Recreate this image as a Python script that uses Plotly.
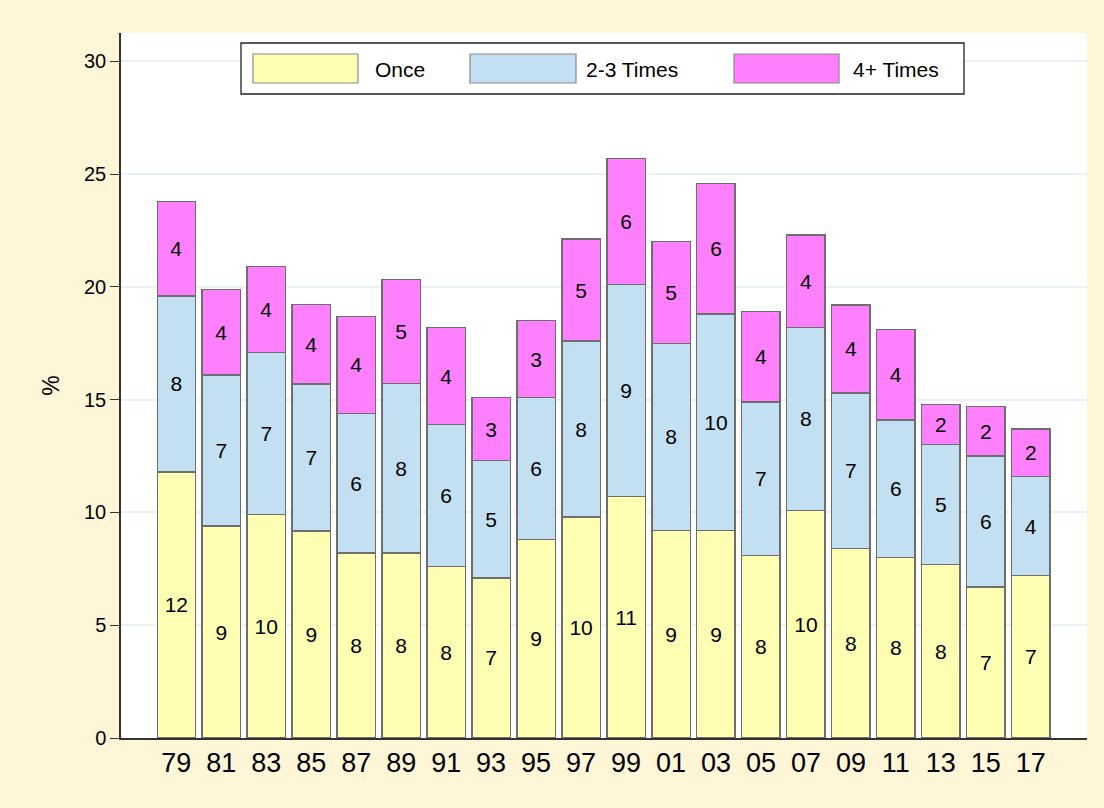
import plotly.graph_objects as go

years = ["79", "81", "83", "85", "87", "89", "91", "93", "95", "97",
         "99", "01", "03", "05", "07", "09", "11", "13", "15", "17"]
once = [11.8, 9.4, 9.9, 9.18, 8.2, 8.2, 7.6, 7.1, 8.8, 9.8,
        10.7, 9.2, 9.2, 8.1, 10.1, 8.4, 8.0, 7.7, 6.7, 7.2]
two_three = [7.8, 6.7, 7.2, 6.52, 6.2, 7.52, 6.3, 5.2, 6.3, 7.8,
             9.4, 8.3, 9.6, 6.8, 8.1, 6.9, 6.1, 5.3, 5.8, 4.4]
four_plus = [4.2, 3.8, 3.8, 3.52, 4.3, 4.6, 4.3, 2.8, 3.4, 4.52,
             5.6, 4.52, 5.8, 4.0, 4.1, 3.9, 4.0, 1.8, 2.2, 2.1]
series_names = ["Once", "2-3 Times", "4+ Times"]
colors = ["#FFFFB3", "#C2E0F2", "#FF80FF"]
y_ticks = [0, 5, 10, 15, 20, 25, 30]

FONT = "Liberation Sans, Arial, sans-serif"
W, H = 1104, 808
ML, MR, MT, MB = 121, 17, 33, 70
PW, PH = W - ML - MR, H - MT - MB

fig = go.Figure()
for name, vals, col in zip(series_names, [once, two_three, four_plus], colors):
    fig.add_trace(go.Bar(
        x=list(range(len(years))), y=vals, name=name,
        marker=dict(color=col, line=dict(color="#6E6E6E", width=1.3)),
        texttemplate="%{y:.0f}", textposition="inside",
        insidetextanchor="middle", textangle=0, constraintext="none",
        textfont=dict(family=FONT, size=21, color="black"),
        showlegend=False, hoverinfo="skip",
    ))

# custom legend (wide swatches)
def px_x(p):
    return (p - ML) / PW

def px_y(p):
    return (H - MB - p) / PH

shapes = [dict(type="rect", xref="paper", yref="paper",
               x0=px_x(241), x1=px_x(964), y0=px_y(94), y1=px_y(43),
               line=dict(color="#222222", width=1.3), fillcolor="white", layer="above")]
annotations = []
sw = [(253, 358, 373), (470, 576, 584), (734, 839, 851)]
for (x0, x1, tx), name, col in zip(sw, series_names, colors):
    shapes.append(dict(type="rect", xref="paper", yref="paper",
                       x0=px_x(x0), x1=px_x(x1), y0=px_y(83), y1=px_y(54),
                       line=dict(color="#8A8A8A", width=1.2), fillcolor=col, layer="above"))
    annotations.append(dict(xref="paper", yref="paper", x=px_x(tx), y=px_y(70),
                            text=name, showarrow=False, xanchor="left", yanchor="middle",
                            font=dict(family=FONT, size=21, color="black")))

fig.update_layout(
    width=W, height=H, barmode="stack", bargap=0.148,
    paper_bgcolor="#FFF6D8", plot_bgcolor="white",
    margin=dict(l=ML, r=MR, t=MT, b=MB, autoexpand=False),
    font=dict(family=FONT, color="black"),
    uniformtext=dict(minsize=21, mode="show"),
    shapes=shapes, annotations=annotations,
    xaxis=dict(range=[-1.23, 20.25], tickmode="array",
               tickvals=list(range(len(years))), ticktext=years,
               showgrid=False, zeroline=False, showline=True,
               linecolor="#333333", linewidth=1.5, ticks="",
               tickfont=dict(family=FONT, size=27, color="black")),
    yaxis=dict(range=[0, 31.26], tickmode="array", tickvals=y_ticks,
               showgrid=True, gridcolor="#EAF2F3", gridwidth=2,
               zeroline=False, showline=True, linecolor="#333333", linewidth=1.5,
               ticks="outside", ticklen=9, tickcolor="#333333", tickwidth=1.3,
               tickfont=dict(family=FONT, size=20, color="black"),
               title=dict(text="%", font=dict(family=FONT, size=23, color="black"),
                          standoff=18)),
)

fig.write_html("out.html", config={"displayModeBar": False},
               post_script="document.body.style.margin='0';")
